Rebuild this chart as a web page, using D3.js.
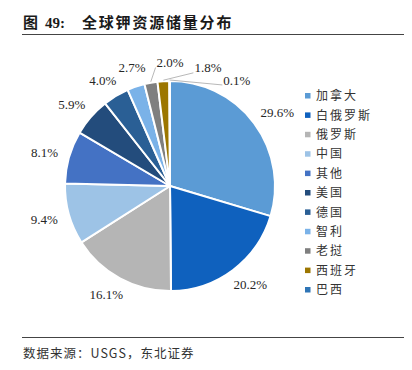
<!DOCTYPE html>
<html>
<head>
<meta charset="utf-8">
<script src="https://cdn.jsdelivr.net/npm/d3@7"></script>
<style>
  body { margin: 0; background: #fff; }
  svg { display: block; }
</style>
</head>
<body>
<div id="chart"></div>
<script>
// 数据
const categories = ["加拿大", "白俄罗斯", "俄罗斯", "中国", "其他", "美国", "德国", "智利", "老挝", "西班牙", "巴西"];
const shares = [29.6, 20.2, 16.1, 9.4, 8.1, 5.9, 4.0, 2.7, 2.0, 1.8, 0.1];
const palette = ["#5b9bd5", "#0f61be", "#b5b5b5", "#9dc3e6", "#4472c4", "#234c7c", "#2a5f95", "#7ab2e8", "#7f7f7f", "#9c7600", "#2e75b6"];

const width = 412, height = 370;
const cx = 170, cy = 186, r = 105;
const gap = 12;
const cjk = "'Noto Sans CJK SC', sans-serif";
const serif = "'Liberation Serif', 'Times New Roman', serif";

const svg = d3.select("#chart").append("svg")
    .attr("width", width)
    .attr("height", height);

// 标题
const title = svg.append("text")
    .attr("y", 28)
    .attr("font-size", "15px")
    .attr("font-weight", "bold")
    .attr("fill", "#1a1a1a");
title.append("tspan").attr("x", 23).attr("font-family", cjk).text("图");
title.append("tspan").attr("x", 45).attr("font-family", serif).text("49:");
title.append("tspan").attr("x", 82).attr("font-family", cjk).attr("letter-spacing", "1.8px").text("全球钾资源储量分布");

svg.append("line")
    .attr("x1", 22).attr("x2", 404).attr("y1", 34.5).attr("y2", 34.5)
    .attr("stroke", "#444").attr("stroke-width", 1);

svg.append("line")
    .attr("x1", 22).attr("x2", 404).attr("y1", 337.5).attr("y2", 337.5)
    .attr("stroke", "#444").attr("stroke-width", 1);

svg.append("text")
    .attr("x", 23).attr("y", 358)
    .attr("font-size", "12.5px")
    .attr("font-family", cjk)
    .attr("letter-spacing", "1px")
    .attr("fill", "#333")
    .text("数据来源：USGS，东北证券");

const color = d3.scaleOrdinal().domain(categories).range(palette);

const pie = d3.pie().sort(null).value(d => d.value);
const arcs = pie(categories.map((c, i) => ({ name: c, value: shares[i] })));
const arc = d3.arc().innerRadius(0).outerRadius(r);

const g = svg.append("g").attr("transform", `translate(${cx},${cy})`);

g.selectAll("path.slice")
  .data(arcs)
  .join("path")
    .attr("class", "slice")
    .attr("d", arc)
    .attr("fill", d => color(d.data.name))
    .attr("stroke", "#fff")
    .attr("stroke-width", 2)
    .attr("stroke-linejoin", "round");

// 百分比标签
const fmt = d3.format(".1f");
const labels = g.selectAll("text.pct")
  .data(arcs)
  .join("text")
    .attr("class", "pct")
    .attr("font-family", serif)
    .attr("font-size", "13px")
    .attr("fill", "#262626")
    .attr("text-anchor", "middle")
    .attr("dy", "0.35em")
    .text(d => fmt(d.data.value) + "%");

function place(d) {
  const s = Math.sin(d.la), c = Math.cos(d.la);
  d.lx = (r + gap) * s + s * d.w / 2;
  d.ly = -(r + gap) * c - c * d.h / 2;
}
function overlaps(a, b) {
  return Math.abs(a.lx - b.lx) < (a.w + b.w) / 2 + 10 && Math.abs(a.ly - b.ly) < 12;
}

labels.each(function(d) {
  d.w = this.getComputedTextLength();
  d.h = 13;
  d.mid = (d.startAngle + d.endAngle) / 2;
  d.la = d.mid;
  place(d);
});
// 依次放置，重叠就顺时针推开
for (let i = 1; i < arcs.length; i++) {
  let guard = 0;
  while (arcs.slice(0, i).some(p => overlaps(arcs[i], p)) && guard < 300) {
    arcs[i].la += Math.PI / 360;
    place(arcs[i]);
    guard++;
  }
}
labels.attr("x", d => d.lx).attr("y", d => d.ly);

// 引导线
const moved = arcs.filter(d => Math.abs(d.la - d.mid) > 0.07);
g.selectAll("line.leader")
  .data(moved)
  .join("line")
    .attr("class", "leader")
    .attr("x1", d => {
      const px = (r + 1) * Math.sin(d.mid);
      if (px < d.lx - d.w / 2) return d.lx - d.w / 2 - 1;
      if (px > d.lx + d.w / 2) return d.lx + d.w / 2 + 1;
      return d.lx;
    })
    .attr("y1", d => d.ly + 5)
    .attr("x2", d => (r + 1) * Math.sin(d.mid))
    .attr("y2", d => -(r + 1) * Math.cos(d.mid))
    .attr("stroke", "#a6a6a6")
    .attr("stroke-width", 0.8);

// 图例
const ly = d3.scalePoint().domain(categories).range([96, 290]);
const legend = svg.append("g");
const item = legend.selectAll("g.item")
  .data(categories)
  .join("g")
    .attr("class", "item")
    .attr("transform", d => `translate(305,${ly(d)})`);
item.append("rect")
    .attr("x", 0).attr("y", -3)
    .attr("width", 5.5).attr("height", 5.5)
    .attr("fill", d => color(d));
item.append("text")
    .attr("x", 11)
    .attr("dy", "0.35em")
    .attr("font-family", cjk)
    .attr("font-size", "12px")
    .attr("letter-spacing", "2px")
    .attr("fill", "#333")
    .text(d => d);
</script>
</body>
</html>
